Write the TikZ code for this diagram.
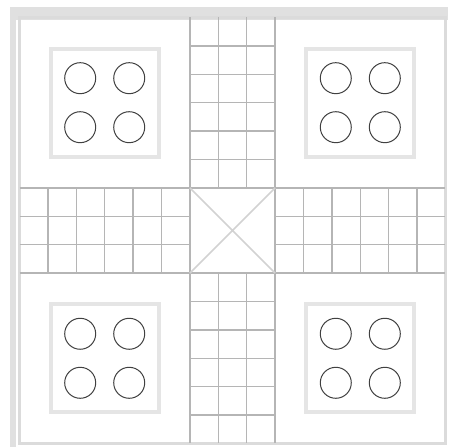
\documentclass[tikz,border=0pt]{standalone}
\usepackage{tikz}
\usetikzlibrary{positioning,calc}

\begin{document}
\begin{tikzpicture}[
  x=28.4pt, y=-28.4pt,
  grid/.style={draw=gray!58, line width=1.5pt},
  frame/.style={fill=gray!24},
  edge/.style={draw=gray!28, line width=3pt},
  home/.style={draw=gray!20, line width=4pt, minimum size=108pt, inner sep=0pt},
  pawn/.style={circle, draw=black!75, line width=1pt, minimum size=31pt, inner sep=0pt},
  cross/.style={draw=gray!35, line width=1.6pt},
]
  \path[use as bounding box, fill=white] (-0.687,-0.616) rectangle (15.229,15.123);

  % Outer frame and board edge
  \fill[frame] (-0.334,-0.37) rectangle (15.09,0.088);
  \fill[frame] (-0.334,-0.37) rectangle (-0.123,15.13);
  \draw[edge] (0,0) rectangle (15,15);

  % Main crossing lines
  \draw[grid] (0,6) -- (15,6);
  \draw[grid] (0,9) -- (15,9);
  \draw[grid] (6,0) -- (6,15);
  \draw[grid] (9,0) -- (9,15);

  % Steps along the four arms
  \foreach \k in {1,...,5} {
    \draw[grid] (6,\k) -- (9,\k);
    \draw[grid] (6,15-\k) -- (9,15-\k);
    \draw[grid] (\k,6) -- (\k,9);
    \draw[grid] (15-\k,6) -- (15-\k,9);
  }
  \foreach \k in {7,8} {
    \draw[grid] (\k,0) -- (\k,6);
    \draw[grid] (\k,9) -- (\k,15);
    \draw[grid] (0,\k) -- (6,\k);
    \draw[grid] (9,\k) -- (15,\k);
  }

  % Centre cross
  \draw[cross] (6,6) -- (9,9) (9,6) -- (6,9);

  % Home bases with four pawn spots
  \foreach \hx/\hy/\nm in {3/3/tl, 12/3/tr, 3/12/bl, 12/12/br} {
    \node[home] (home-\nm) at (\hx,\hy) {};
    \foreach \dx/\dy/\p in {-1/-1/1, 1/-1/2, -1/1/3, 1/1/4}
      \node[pawn] (\nm-pawn\p) at ($(home-\nm)+(0.863*\dx,0.863*\dy)$) {};
  }
\end{tikzpicture}
\end{document}
